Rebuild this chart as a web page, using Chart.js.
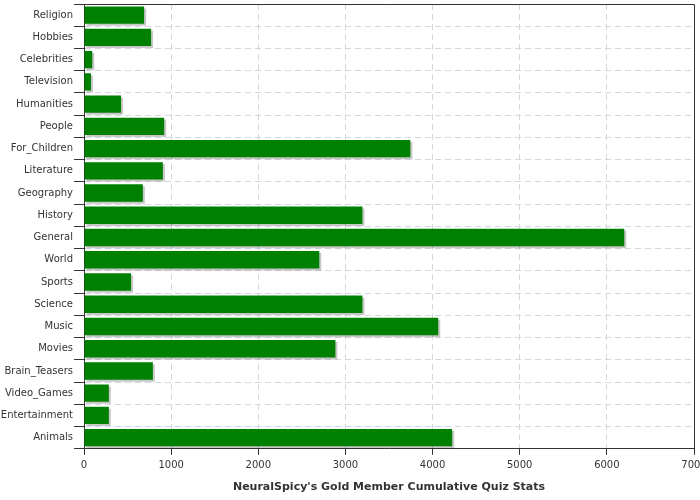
<!DOCTYPE html>
<html>
<head>
<meta charset="utf-8">
<script src="https://cdn.jsdelivr.net/npm/chart.js@4"></script>
<style>
  html, body { margin: 0; padding: 0; background: #fff; }
  #wrap { width: 700px; height: 500px; }
</style>
</head>
<body>
<div id="wrap"><canvas id="chart"></canvas></div>
<script>
var categories = ['Religion', 'Hobbies', 'Celebrities', 'Television', 'Humanities', 'People',
    'For_Children', 'Literature', 'Geography', 'History', 'General', 'World', 'Sports',
    'Science', 'Music', 'Movies', 'Brain_Teasers', 'Video_Games', 'Entertainment', 'Animals'];

var quizCounts = [690, 770, 95, 80, 425, 920,
    3745, 905, 675, 3195, 6200, 2700, 540,
    3195, 4065, 2885, 790, 285, 285, 4225];

var xTicks = [0, 1000, 2000, 3000, 4000, 5000, 6000, 7000];

var axisTitle = "NeuralSpicy's Gold Member Cumulative Quiz Stats";

// light grey drop shadow behind the bars
var barShadow = {
    id: 'barShadow',
    beforeDatasetsDraw: function (chart) {
        var ctx = chart.ctx;
        ctx.save();
        ctx.shadowColor = 'rgba(0,0,0,0.22)';
        ctx.shadowOffsetX = 2;
        ctx.shadowOffsetY = 2;
        ctx.shadowBlur = 0;
    },
    afterDatasetsDraw: function (chart) {
        chart.ctx.restore();
    }
};

// frame on the top and right of the plot
var plotFrame = {
    id: 'plotFrame',
    afterDraw: function (chart) {
        var a = chart.chartArea, ctx = chart.ctx;
        ctx.save();
        ctx.strokeStyle = '#333';
        ctx.lineWidth = 1;
        ctx.beginPath();
        ctx.moveTo(a.left, a.top + 0.5);
        ctx.lineTo(a.right + 0.5, a.top + 0.5);
        ctx.lineTo(a.right + 0.5, a.bottom);
        ctx.stroke();
        ctx.restore();
    }
};

Chart.defaults.font.family = '"DejaVu Sans", Verdana, sans-serif';
Chart.defaults.font.size = 10;
Chart.defaults.color = '#333';

new Chart(document.getElementById('chart'), {
    type: 'bar',
    data: {
        labels: categories,
        datasets: [{
            data: quizCounts,
            backgroundColor: '#008000',
            borderWidth: 0,
            barPercentage: 0.78,
            categoryPercentage: 1
        }]
    },
    options: {
        indexAxis: 'y',
        responsive: true,
        maintainAspectRatio: false,
        animation: false,
        layout: { padding: { top: 4, right: 6, left: 0, bottom: 6 } },
        plugins: {
            legend: { display: false },
            tooltip: { enabled: false }
        },
        scales: {
            x: {
                min: 0,
                max: 7000,
                afterBuildTicks: function (scale) {
                    scale.ticks = xTicks.map(function (v) { return { value: v }; });
                },
                afterFit: function (scale) { scale.paddingRight = 0; },
                ticks: {
                    color: '#333',
                    padding: 5,
                    maxRotation: 0,
                    autoSkip: false,
                    callback: function (v) { return String(v); }
                },
                grid: {
                    color: '#d3d8dd',
                    tickColor: '#333',
                    tickLength: 6
                },
                border: { color: '#333', dash: [6, 4] },
                title: {
                    display: true,
                    text: axisTitle,
                    color: '#333',
                    font: { size: 11, weight: 'bold' },
                    padding: { top: 4, bottom: 0 }
                }
            },
            y: {
                afterFit: function (scale) {
                    scale.width = 84;
                    scale.paddingTop = 0;
                    scale.paddingBottom = 0;
                },
                ticks: { color: '#333', padding: 1, autoSkip: false },
                grid: {
                    color: '#d3d8dd',
                    tickColor: '#333',
                    tickLength: 10
                },
                border: { color: '#333', dash: [6, 4] }
            }
        }
    },
    plugins: [barShadow, plotFrame]
});
</script>
</body>
</html>
